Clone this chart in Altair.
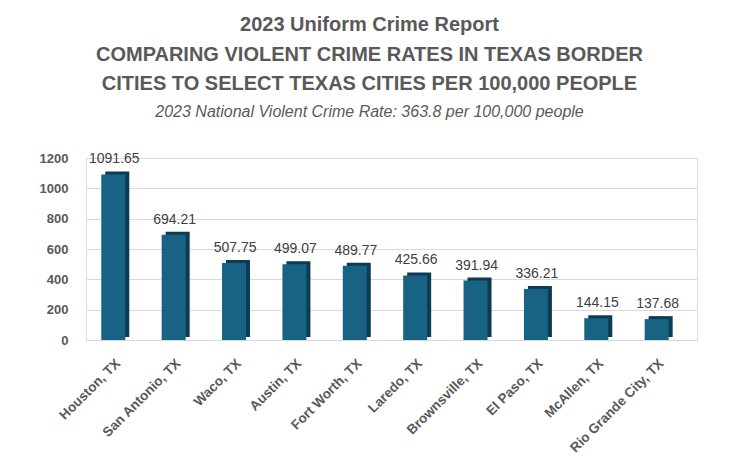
import altair as alt
import pandas as pd

cities = ["Houston, TX", "San Antonio, TX", "Waco, TX", "Austin, TX", "Fort Worth, TX",
          "Laredo, TX", "Brownsville, TX", "El Paso, TX", "McAllen, TX", "Rio Grande City, TX"]
rates = [1091.65, 694.21, 507.75, 499.07, 489.77, 425.66, 391.94, 336.21, 144.15, 137.68]
labels = ["1091.65", "694.21", "507.75", "499.07", "489.77", "425.66", "391.94", "336.21", "144.15", "137.68"]
y_ticks = [0, 200, 400, 600, 800, 1000, 1200]

df = pd.DataFrame({"city": cities, "rate": rates, "label": labels})

x = alt.X("city:N", sort=cities, title=None,
          scale=alt.Scale(paddingInner=0.6, paddingOuter=0.36, align=0.35),
          axis=alt.Axis(labelAngle=-45, labelFontWeight="bold",
                        labelFontSize=13.5, labelColor="#595959", domain=False, ticks=False,
                        labelPadding=16, labelFont="Liberation Sans"))
y = alt.Y("rate:Q", title=None,
          scale=alt.Scale(domain=[0, 1200]),
          axis=alt.Axis(values=y_ticks, format="d", labelFontWeight="bold", labelFontSize=13,
                        labelColor="#595959", domain=False, ticks=False, labelPadding=18,
                        gridColor="#d9d9d9", labelFont="Liberation Sans"))

base = alt.Chart(df)
side = base.mark_bar(size=24, color="#0d3b52", xOffset=4, yOffset=-3).encode(x=x, y=y)
front = base.mark_bar(size=24, color="#186284").encode(x=x, y=y)
text = base.mark_text(dy=-15, dx=1, fontSize=14, color="#404040", font="Liberation Sans").encode(
    x=x, y=y, text="label:N")

chart = alt.layer(side, front, text).properties(
    width=611, height=182,
    padding={"left": 78, "top": 150, "right": 35, "bottom": 122},
    autosize=alt.AutoSizeParams(type="none"),
    title=alt.TitleParams(
        text=["2023 Uniform Crime Report",
              "COMPARING VIOLENT CRIME RATES IN TEXAS BORDER",
              "CITIES TO SELECT TEXAS CITIES PER 100,000  PEOPLE"],
        subtitle="2023 National Violent Crime Rate: 363.8 per 100,000 people",
        fontSize=20, fontWeight="bold", color="#595959", lineHeight=29.5,
        font="Liberation Sans",
        subtitleFont="Liberation Sans", subtitleFontSize=16, subtitleFontStyle="italic",
        subtitleColor="#595959", subtitlePadding=10, offset=32, dx=-22, anchor="middle"),
).configure_view(stroke=None).configure(background="white")

chart.save("out.html", embed_options={"renderer": "svg", "actions": False})
